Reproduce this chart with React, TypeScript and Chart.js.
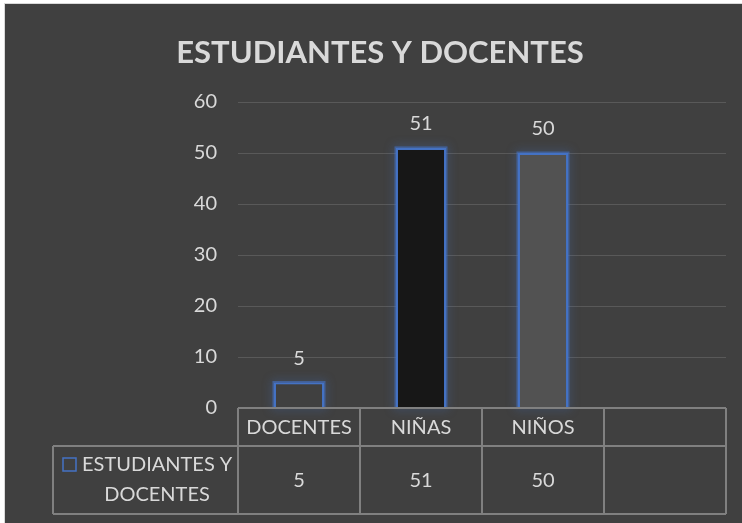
import React, { useEffect, useRef } from "react";
import { Chart, registerables } from "chart.js";
Chart.register(...registerables);

const TITLE = "ESTUDIANTES Y DOCENTES";
const CATEGORIES = ["DOCENTES", "NIÑAS", "NIÑOS", ""];
const VALUES: (number | null)[] = [5, 51, 50, null];
const SERIES_NAME = "ESTUDIANTES Y DOCENTES";
const LEGEND_LINES = ["ESTUDIANTES Y", "DOCENTES"];
const Y_MIN = 0;
const Y_MAX = 60;
const Y_STEP = 10;

const BG = "#404040";
const TEXT = "#d9d9d9";
const GRID = "#595959";
const TABLE_LINE = "#808080";
const BLUE = "#4472c4";
const BAR_FILLS = ["#404040", "#171717", "#525252", "#404040"];
const FONT = "Lato, 'Liberation Sans', sans-serif";
const FS = 20;

const excelPlugin = {
  id: "excelExtras",
  beforeDatasetsDraw(chart: any) {
    const ctx = chart.ctx;
    const meta = chart.getDatasetMeta(0);
    ctx.save();
    ctx.shadowColor = "rgba(68,114,196,0.9)";
    ctx.shadowBlur = 10;
    ctx.strokeStyle = "rgba(68,114,196,0.6)";
    ctx.lineWidth = 3;
    meta.data.forEach((bar: any, i: number) => {
      if (VALUES[i] == null) return;
      const { x, y, base, width } = bar.getProps(["x", "y", "base", "width"], true);
      ctx.strokeRect(x - width / 2, y, width, base - y);
    });
    ctx.restore();
  },
  afterDraw(chart: any) {
    const ctx = chart.ctx;
    const area = chart.chartArea;
    const meta = chart.getDatasetMeta(0);
    // value labels
    ctx.save();
    ctx.fillStyle = TEXT;
    ctx.font = `${FS}px ${FONT}`;
    ctx.textAlign = "center";
    ctx.textBaseline = "middle";
    meta.data.forEach((bar: any, i: number) => {
      const v = VALUES[i];
      if (v == null) return;
      ctx.fillText(String(v), bar.x, bar.y - 24);
    });
    ctx.restore();

    // title
    ctx.save();
    ctx.fillStyle = TEXT;
    ctx.font = `bold 31px ${FONT}`;
    ctx.textAlign = "center";
    ctx.textBaseline = "middle";
    ctx.fillText(TITLE, 375, 49);
    ctx.restore();

    // data table
    const n = CATEGORIES.length;
    const colW = (area.right - area.left) / n;
    const top = area.bottom;
    const mid = top + 38;
    const bottom = top + 106;
    const legLeft = 48;
    ctx.save();
    ctx.strokeStyle = TABLE_LINE;
    ctx.lineWidth = 2;
    ctx.beginPath();
    ctx.moveTo(area.left, top);
    ctx.lineTo(area.right, top);
    ctx.moveTo(legLeft, mid);
    ctx.lineTo(area.right, mid);
    ctx.moveTo(legLeft, bottom);
    ctx.lineTo(area.right, bottom);
    for (let i = 0; i <= n; i++) {
      const x = area.left + i * colW;
      ctx.moveTo(x, top);
      ctx.lineTo(x, bottom);
    }
    ctx.moveTo(legLeft, mid);
    ctx.lineTo(legLeft, bottom);
    ctx.stroke();

    ctx.fillStyle = TEXT;
    ctx.font = `${FS}px ${FONT}`;
    ctx.textAlign = "center";
    ctx.textBaseline = "middle";
    for (let i = 0; i < n; i++) {
      const cx = area.left + (i + 0.5) * colW;
      ctx.fillText(CATEGORIES[i], cx, top + 20);
      const v = VALUES[i];
      if (v != null) ctx.fillText(String(v), cx, (mid + bottom) / 2 + 1);
    }
    // legend cell
    ctx.strokeStyle = BLUE;
    ctx.lineWidth = 1.5;
    ctx.strokeRect(58, 454, 13, 13);
    ctx.textAlign = "left";
    ctx.fillText(LEGEND_LINES[0], 77, 461);
    ctx.textAlign = "center";
    ctx.fillText(LEGEND_LINES[1], 152, 491);
    ctx.restore();
  },
};

export default function App() {
  const ref = useRef<HTMLCanvasElement | null>(null);
  useEffect(() => {
    document.body.style.margin = "0";
    document.body.style.background = "#ffffff";
    const chart = new Chart(ref.current!, {
      type: "bar",
      data: {
        labels: CATEGORIES,
        datasets: [
          {
            label: SERIES_NAME,
            data: VALUES,
            backgroundColor: BAR_FILLS,
            borderColor: BLUE,
            borderWidth: 2,
            categoryPercentage: 1,
            barPercentage: 0.41,
          },
        ],
      },
      options: {
        responsive: false,
        animation: false,
        devicePixelRatio: 1,
        layout: { padding: { left: 0, right: 16, top: 98, bottom: 115 } },
        plugins: {
          legend: { display: false },
          title: { display: false },
          tooltip: { enabled: false },
        },
        scales: {
          x: {
            ticks: { display: false },
            grid: { display: false, drawTicks: false },
            border: { display: false },
          },
          y: {
            min: Y_MIN,
            max: Y_MAX,
            ticks: {
              stepSize: Y_STEP,
              color: TEXT,
              padding: 21,
              font: { family: FONT, size: FS },
            },
            grid: { color: GRID, lineWidth: 1, drawTicks: false },
            border: { display: false },
            afterFit: (s: any) => {
              s.width = 233;
            },
          },
        },
      },
      plugins: [excelPlugin],
    });
    return () => chart.destroy();
  }, []);
  return (
    <div style={{ position: "relative", width: 742, height: 523, background: "#ffffff", overflow: "hidden" }}>
      <div
        style={{
          position: "absolute",
          left: 4,
          top: 3,
          width: 740,
          height: 522,
          background: BG,
          borderLeft: "1px solid #d9d9d9",
          borderTop: "1px solid #d9d9d9",
        }}
      >
        <canvas ref={ref} width={737} height={519} style={{ display: "block", position: "absolute", left: 0, top: 0 }} />
      </div>
    </div>
  );
}
